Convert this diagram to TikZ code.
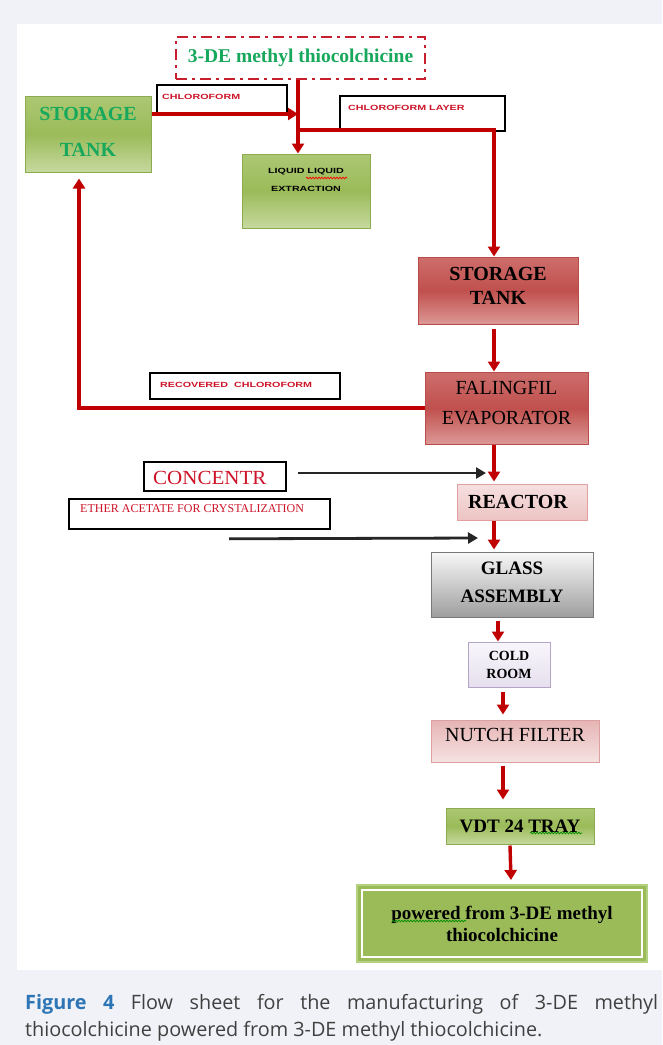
\documentclass[tikz,border=0pt]{standalone}
\usepackage{fontspec}
\setmainfont{Liberation Serif}
\newfontfamily\lblfont{Liberation Sans}
\newfontfamily\capfont{Open Sans}
\usetikzlibrary{arrows.meta,calc,decorations.pathmorphing}
\newcommand\myB[2]{\fontsize{#1}{#2}\selectfont\bfseries}
\newcommand\myR[2]{\fontsize{#1}{#2}\selectfont}
\newcommand\wide[1]{\scalebox{1.43}[1]{#1}}
\definecolor{bgout}{RGB}{240,242,247}
\definecolor{arrred}{RGB}{192,0,0}
\definecolor{dashred}{RGB}{200,30,45}
\definecolor{grntxt}{RGB}{24,168,92}
\definecolor{lblred}{RGB}{205,20,40}
\definecolor{gmid}{RGB}{155,187,89}
\definecolor{gtop}{RGB}{172,200,115}
\definecolor{gbot}{RGB}{198,217,158}
\definecolor{gedge}{RGB}{140,170,80}
\definecolor{gouter}{RGB}{180,208,130}
\definecolor{rmid}{RGB}{192,80,77}
\definecolor{rtop}{RGB}{205,110,108}
\definecolor{rbot}{RGB}{220,152,150}
\definecolor{redge}{RGB}{185,75,72}
\definecolor{ptop}{RGB}{246,224,224}
\definecolor{pbot}{RGB}{236,196,195}
\definecolor{pedge}{RGB}{225,160,160}
\definecolor{ntop}{RGB}{230,180,180}
\definecolor{nbot}{RGB}{246,226,226}
\definecolor{nedge}{RGB}{220,160,160}
\definecolor{grytop}{RGB}{248,248,248}
\definecolor{grybot}{RGB}{158,158,158}
\definecolor{gryedge}{RGB}{120,120,120}
\definecolor{ltop}{RGB}{248,246,251}
\definecolor{lbot}{RGB}{230,224,238}
\definecolor{ledge}{RGB}{180,165,200}
\definecolor{capblue}{RGB}{46,117,182}
\definecolor{captxt}{RGB}{64,64,64}
\begin{document}
\begin{tikzpicture}[x=1pt,y=-1pt,
  box/.style={rectangle,inner sep=0pt,align=center,line width=1pt},
  gbox/.style={box,draw=gedge,top color=gtop,bottom color=gbot,middle color=gmid},
  rbox/.style={box,draw=redge,top color=rtop,bottom color=rbot,middle color=rmid},
  wbox/.style={box,draw=black,line width=1.6pt,fill=white},
  lbl/.style={inner sep=0pt,anchor=west,text=lblred,font=\lblfont\bfseries\fontsize{7.5}{9}\selectfont},
  rarr/.style={draw=arrred,line width=3.4pt,-{Triangle[width=12pt,length=10pt]}},
  barr/.style={draw=black!85,line width=2.8pt,-{Triangle[width=11pt,length=10pt]}},
  squig/.style={decorate,decoration={snake,amplitude=0.9pt,segment length=3pt},line width=0.7pt}
]
\useasboundingbox (0,0) rectangle (662,1045);
\fill[bgout] (0,0) rectangle (662,1045);
\fill[white] (17,24) rectangle (662,970);

% nodes
\node[box,draw=dashred,line width=2.6pt,dash pattern=on 11pt off 5pt on 3pt off 5pt,
      minimum width=249pt,minimum height=42pt,text=grntxt,font=\myB{19.5}{20}] (top) at (300.5,58) {3-DE methyl thiocolchicine};
\node[gbox,minimum width=126pt,minimum height=76pt,text=grntxt,text depth=4pt,font=\myB{20}{36}] (lst) at (88,134) {STORAGE\\TANK};

\node[wbox,minimum width=130pt,minimum height=29pt] (chl) at (222,99.5) {};
\node[lbl] (chlT) at (162,97) {\wide{CHLOROFORM}};
\node[wbox,minimum width=165pt,minimum height=35pt] (chll) at (422.5,113.5) {};
\node[lbl] (chllT) at (348,108) {\wide{CHLOROFORM LAYER}};

\node[gbox,minimum width=128pt,minimum height=74pt] (lle) at (306,191) {};
\node[inner sep=0pt,align=center,font=\lblfont\bfseries\fontsize{7.5}{18}\selectfont] (lleT) at (306,180) {\wide{LIQUID LIQUID}\\\wide{EXTRACTION}};

\node[rbox,minimum width=160pt,minimum height=67pt,text depth=10pt,font=\myB{20}{24}] (rst) at (498,290.5) {STORAGE\\TANK};
\node[rbox,minimum width=163pt,minimum height=72pt,text depth=10pt,font=\myR{20}{30}] (evap) at (506.5,408) {FALINGFIL\\EVAPORATOR};

\node[wbox,minimum width=190pt,minimum height=26pt] (rec) at (245,386) {};
\node[lbl] (recT) at (160,385) {\wide{RECOVERED\ \ CHLOROFORM}};

\node[wbox,minimum width=142pt,minimum height=29pt] (conc) at (215,476.5) {};
\node[inner sep=0pt,anchor=west,text=lblred,font=\myR{20}{20}] (concT) at (153,478) {\scalebox{1.05}[1]{CONCENTR}};

\node[wbox,minimum width=261pt,minimum height=30pt] (eth) at (199.5,514) {};
\node[inner sep=0pt,anchor=west,text=lblred,font=\myR{12}{12}] (ethT) at (80,509) {ETHER ACETATE FOR CRYSTALIZATION};

\node[box,draw=pedge,top color=ptop,bottom color=pbot,minimum width=130pt,minimum height=36pt,font=\myB{20}{20}] (reac) at (522,502) {REACTOR\hspace*{8pt}};
\node[box,draw=gryedge,top color=grytop,bottom color=grybot,minimum width=162pt,minimum height=65pt,text depth=4pt,font=\myB{19}{28}] (glass) at (512,584.5) {GLASS\\ASSEMBLY};
\node[box,draw=ledge,top color=ltop,bottom color=lbot,minimum width=82pt,minimum height=45pt,font=\myB{14}{18}] (cold) at (509,664.5) {COLD\\ROOM};
\node[box,draw=nedge,top color=ntop,bottom color=nbot,minimum width=168pt,minimum height=42pt,text depth=12pt,font=\myR{20}{20}] (nutch) at (515,741) {NUTCH FILTER};
\node[gbox,minimum width=148pt,minimum height=36pt,font=\myB{19}{19}] (vdt) at (520,826) {VDT 24 TRAY};
\node[box,draw=gouter,line width=2pt,fill=gmid,minimum width=290pt,minimum height=77pt,font=\myB{19}{22}] (fin) at (502,923.5) {powered from 3-DE methyl\\thiocolchicine};
\draw[white,line width=1.5pt] ($(fin.north west)+(6,6)$) rectangle ($(fin.south east)+(-6,-6)$);

% spell-check squiggles
\draw[squig,draw=red] (306,178) -- (347,178);
\draw[squig,draw=green!55!black] (530,833) -- (582,833);
\draw[squig,draw=green!55!black] (392,921) -- (466,921);

% connectors
\coordinate (j0) at ($(top.south)+(-2.5,0)$);
\coordinate (j1) at (298,114);
\coordinate (j2) at (298,130);
\draw[rarr] (j0) -- (j0 |- lle.north);
\draw[rarr] (lst.east |- j1) -- (j1);
\draw[rarr] (j2) -| ($(rst.north)+(-4,0)$);
\draw[rarr] ($(rst.south)+(-4,4)$) -- ($(evap.north)+(-12.5,0)$);
\draw[rarr] (evap.west) -| ($(lst.south)+(-9,6)$);
\draw[rarr] ($(evap.south)+(-12.5,0)$) -- ($(reac.north)+(-28,-2)$);
\coordinate (cA) at (486,473);
\draw[barr] ($(conc.east)+(11,-3.5)$) -- (cA);
\draw[rarr] ($(reac.south)+(-28,0)$) -- ($(glass.north)+(-18,-2)$);
\coordinate (eA) at (478,538);
\draw[barr] ($(eth.south west)+(161,9)$) -- (eA);
\draw[rarr] ($(glass.south)+(-14,3)$) -- ($(cold.north)+(-11,0)$);
\draw[rarr] ($(cold.south)+(-6,4)$) -- ($(nutch.north)+(-12,-5)$);
\draw[rarr] ($(nutch.south)+(-12,3)$) -- ($(vdt.north)+(-17,-8)$);
\draw[rarr] ($(vdt.south)+(-10,1)$) -- ($(fin.north)+(9,-4)$);

% caption
\node[anchor=north west,inner sep=0pt,text width=633pt,align=justify,text=captxt,
      font=\capfont\fontsize{19.8}{27}\selectfont] (cap) at (25,994)
  {\textcolor{capblue}{\bfseries Figure 4} Flow sheet for the manufacturing of 3-DE methyl\linebreak thiocolchicine powered from 3-DE methyl thiocolchicine.};
\end{tikzpicture}
\end{document}
